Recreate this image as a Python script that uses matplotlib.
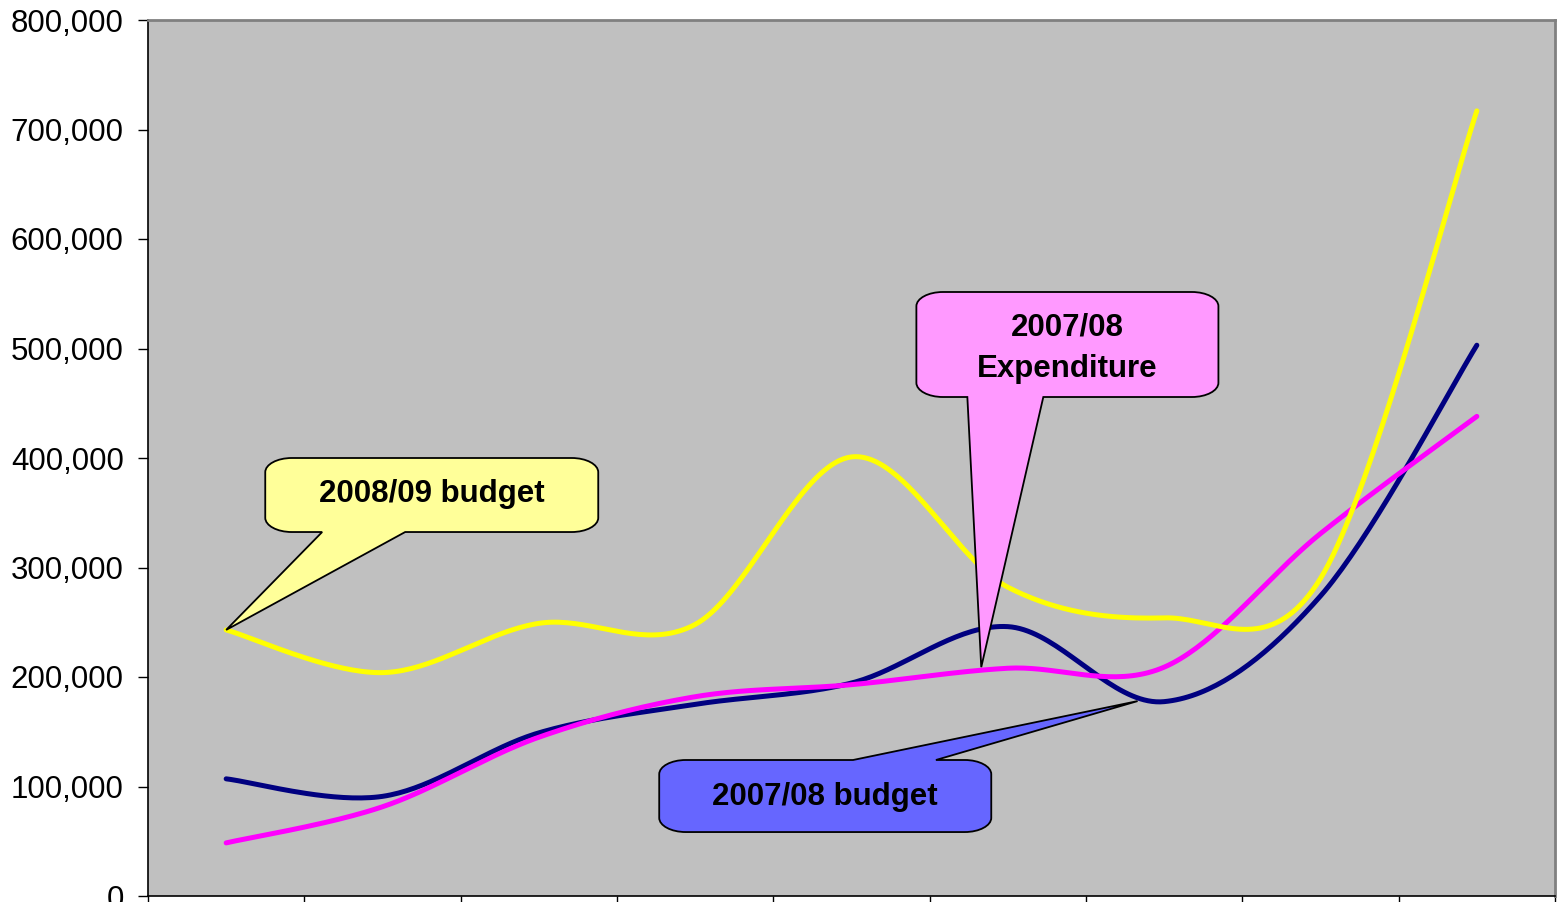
import numpy as np
import matplotlib
matplotlib.use("Agg")
import matplotlib.pyplot as plt
from matplotlib.path import Path
from matplotlib.patches import PathPatch
from matplotlib.ticker import FuncFormatter

plt.rcParams['font.family'] = ['Liberation Sans', 'DejaVu Sans']

# Nine periods along the category axis
periods = list(range(9))

budget_2007_08 = [107000, 91000, 149000, 175000, 194500, 246000, 177500, 274000, 503000]
expenditure_2007_08 = [48500, 81500, 145000, 182000, 193000, 208000, 209000, 331000, 438000]
budget_2008_09 = [243000, 204000, 249000, 248000, 401000, 282000, 254000, 290000, 717000]

y_ticks = list(range(0, 800001, 100000))


def smooth(xs, ys, n=40):
    """Cubic Bezier smoothing through every point (Catmull-Rom style tangents)."""
    xs = np.asarray(xs, float)
    ys = np.asarray(ys, float)
    px = np.concatenate([[xs[0]], xs, [xs[-1]]])
    py = np.concatenate([[ys[0]], ys, [ys[-1]]])
    out_x, out_y = [], []
    t = np.linspace(0, 1, n)
    for i in range(len(xs) - 1):
        a = (px[i + 1], py[i + 1])
        d = (px[i + 2], py[i + 2])
        b = (a[0] + (px[i + 2] - px[i]) / 6, a[1] + (py[i + 2] - py[i]) / 6)
        c = (d[0] - (px[i + 3] - px[i + 1]) / 6, d[1] - (py[i + 3] - py[i + 1]) / 6)
        w0 = (1 - t) ** 3
        w1 = 3 * (1 - t) ** 2 * t
        w2 = 3 * (1 - t) * t ** 2
        w3 = t ** 3
        out_x.append(w0 * a[0] + w1 * b[0] + w2 * c[0] + w3 * d[0])
        out_y.append(w0 * a[1] + w1 * b[1] + w2 * c[1] + w3 * d[1])
    return np.concatenate(out_x), np.concatenate(out_y)


def callout(ax, x0, x1, y0, y1, base, tip, side, fc, rx=0.17, ry=13000):
    """Rounded box with a wedge pointer on its top or bottom edge."""
    k = 0.5523
    verts, codes = [], []

    def move(p):
        verts.append(p); codes.append(Path.MOVETO)

    def line(p):
        verts.append(p); codes.append(Path.LINETO)

    def curve(c1, c2, p):
        verts.extend([c1, c2, p]); codes.extend([Path.CURVE4] * 3)

    move((x0 + rx, y1))
    if side == 'top':
        line((base[0], y1)); line(tip); line((base[1], y1))
    line((x1 - rx, y1))
    curve((x1 - rx + k * rx, y1), (x1, y1 - ry + k * ry), (x1, y1 - ry))
    line((x1, y0 + ry))
    curve((x1, y0 + ry - k * ry), (x1 - rx + k * rx, y0), (x1 - rx, y0))
    if side == 'bottom':
        line((base[1], y0)); line(tip); line((base[0], y0))
    line((x0 + rx, y0))
    curve((x0 + rx - k * rx, y0), (x0, y0 + ry - k * ry), (x0, y0 + ry))
    line((x0, y1 - ry))
    curve((x0, y1 - ry + k * ry), (x0 + rx - k * rx, y1), (x0 + rx, y1))
    codes.append(Path.CLOSEPOLY); verts.append((x0 + rx, y1))
    patch = PathPatch(Path(verts, codes), facecolor=fc, edgecolor='black',
                      linewidth=1.3, zorder=5, clip_on=False, joinstyle='miter')
    ax.add_patch(patch)


fig = plt.figure(figsize=(15.61, 9.02), dpi=100)
ax = fig.add_axes([148 / 1561, 6 / 902, 1407 / 1561, 876 / 902])
ax.set_facecolor('#C0C0C0')

for series, color in [(budget_2007_08, '#000080'),
                      (expenditure_2007_08, '#FF00FF'),
                      (budget_2008_09, '#FFFF00')]:
    sx, sy = smooth(periods, series)
    ax.plot(sx, sy, color=color, linewidth=3.6, solid_capstyle='round',
            solid_joinstyle='round', zorder=3)

ax.set_xlim(-0.5, 8.5)
ax.set_ylim(0, 800000)
ax.set_yticks(y_ticks)
ax.yaxis.set_major_formatter(FuncFormatter(lambda v, p: f"{int(v):,}"))
ax.set_xticks(np.arange(-0.5, 9, 1))
ax.set_xticklabels([])
ax.tick_params(axis='y', direction='out', length=7.5, width=1, color='black',
               labelsize=22.5, pad=10)
ax.tick_params(axis='x', direction='out', length=8, width=1, color='black')

for s in ['top', 'right']:
    ax.spines[s].set_color('#808080')
    ax.spines[s].set_linewidth(2)
for s in ['left', 'bottom']:
    ax.spines[s].set_color('black')
    ax.spines[s].set_linewidth(1.2)

# Speech-bubble labels for each series
callout(ax, 0.25, 2.38, 332400, 400000, (0.614, 1.145),
        (periods[0], budget_2008_09[0]), 'bottom', '#FFFF99')
callout(ax, 4.415, 6.347, 455700, 551600, (4.741, 5.227),
        (4.83, 209000), 'bottom', '#FF99FF')
callout(ax, 2.77, 4.894, 58400, 124200, (4.01, 4.54),
        (5.83, 178000), 'top', '#6666FF')

txt = dict(fontsize=22.5, fontweight='bold', color='black', ha='center',
           va='baseline', zorder=6)
ax.text(1.318, 359800, '2008/09 budget', **txt)
ax.text(5.38, 512300, '2007/08', **txt)
ax.text(5.38, 474000, 'Expenditure', **txt)
ax.text(3.829, 83100, '2007/08 budget', **txt)

fig.savefig('out.png', dpi=100)
